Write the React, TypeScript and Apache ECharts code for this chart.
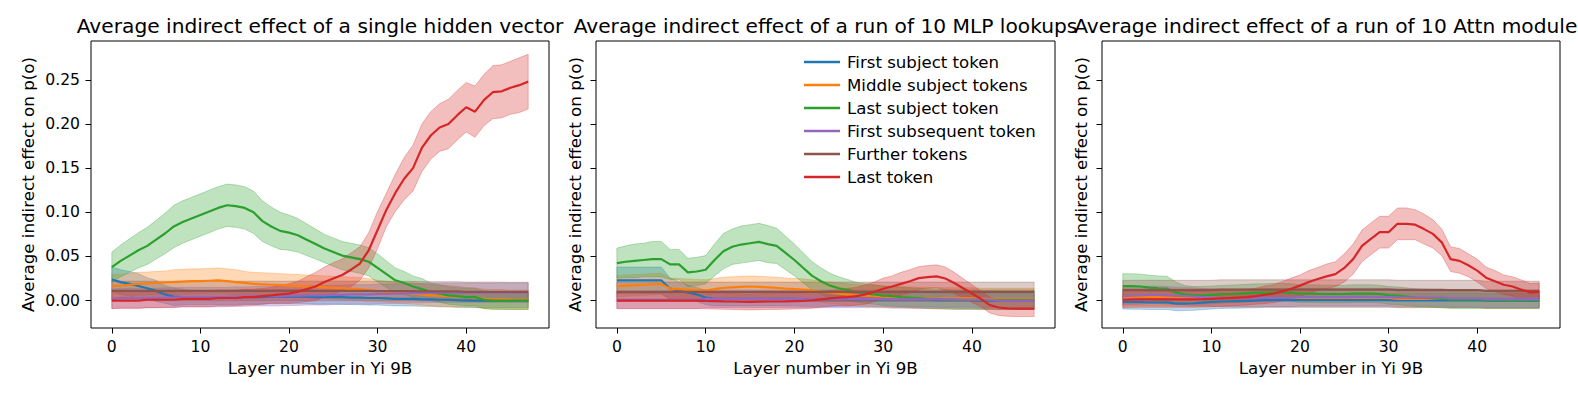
import React, { useEffect, useRef } from 'react';
import * as echarts from 'echarts';

// ---------------- data ----------------
const LAYERS = [0,1,2,3,4,5,6,7,8,9,10,11,12,13,14,15,16,17,18,19,20,21,22,23,24,25,26,27,28,29,30,31,32,33,34,35,36,37,38,39,40,41,42,43,44,45,46,47];
const X_TICKS = [0, 10, 20, 30, 40];
const Y_TICKS = [0, 0.05, 0.1, 0.15, 0.2, 0.25];
const SERIES_NAMES = ['First subject token', 'Middle subject tokens', 'Last subject token', 'First subsequent token', 'Further tokens', 'Last token'];
const TITLES = [
  'Average indirect effect of a single hidden vector',
  'Average indirect effect of a run of 10 MLP lookups',
  'Average indirect effect of a run of 10 Attn modules',
];
const X_LABEL = 'Layer number in Yi 9B';
const Y_LABEL = 'Average indirect effect on p(o)';

// Panel 1: single hidden vector
const hvFirstMean = [0.024,0.021,0.019,0.0165,0.014,0.011,0.007,0.0045,0.004,0.0035,
  0.0035,0.0035,0.0035,0.0035,0.0035,0.004,0.004,0.004,0.0045,0.0045,
  0.0045,0.0045,0.0045,0.004,0.004,0.004,0.004,0.0035,0.0035,0.003,
  0.003,0.0025,0.002,0.002,0.002,0.0015,0.0015,0.001,0.001,0.0005,
  0.0003,0,0,0,0,0,0,0];
const hvFirstErr = [0.014,0.014,0.014,0.014,0.012,0.012,0.010,0.010,0.009,0.008,
  0.008,0.008,0.008,0.008,0.008,0.008,0.008,0.008,0.008,0.008,
  0.008,0.008,0.008,0.008,0.008,0.008,0.008,0.008,0.008,0.008,
  0.008,0.008,0.008,0.008,0.008,0.008,0.008,0.008,0.008,0.008,
  0.008,0.008,0.008,0.008,0.008,0.008,0.008,0.008];
const hvMiddleMean = [0.0165,0.017,0.018,0.019,0.0195,0.020,0.0205,0.021,0.0215,0.022,
  0.022,0.0225,0.023,0.022,0.021,0.020,0.019,0.0185,0.018,0.0175,
  0.017,0.0165,0.016,0.0155,0.015,0.0145,0.014,0.0135,0.013,0.012,
  0.011,0.010,0.009,0.0085,0.008,0.007,0.006,0.0055,0.005,0.0045,
  0.004,0.0035,0.002,0.0015,0.0015,0.001,0.001,0.001];
const hvMiddleErr = [0.013,0.013,0.013,0.013,0.013,0.013,0.013,0.014,0.014,0.014,
  0.014,0.014,0.014,0.014,0.014,0.013,0.013,0.013,0.013,0.013,
  0.013,0.013,0.013,0.013,0.013,0.013,0.013,0.013,0.013,0.013,
  0.012,0.012,0.012,0.012,0.012,0.012,0.012,0.012,0.012,0.012,
  0.011,0.011,0.011,0.011,0.011,0.011,0.011,0.011];
const hvLastSubjMean = [0.038,0.045,0.051,0.057,0.062,0.069,0.076,0.084,0.089,0.093,
  0.097,0.101,0.105,0.108,0.107,0.105,0.100,0.090,0.084,0.079,
  0.077,0.074,0.069,0.064,0.059,0.055,0.051,0.049,0.047,0.044,
  0.037,0.030,0.023,0.020,0.016,0.013,0.010,0.008,0.006,0.005,
  0.004,0.004,0.001,0,0,0,0,0];
const hvLastSubjErr = [0.017,0.018,0.019,0.020,0.021,0.022,0.023,0.024,0.024,0.024,
  0.024,0.024,0.024,0.024,0.024,0.024,0.024,0.023,0.022,0.021,
  0.020,0.019,0.018,0.017,0.016,0.016,0.016,0.016,0.016,0.016,
  0.016,0.015,0.014,0.013,0.012,0.012,0.010,0.010,0.010,0.010,
  0.010,0.010,0.010,0.010,0.010,0.010,0.010,0.010];
const hvSubseqMean = [0.002,0.003,0.003,0.003,0.003,0.003,0.0035,0.0035,0.004,0.004,
  0.004,0.004,0.004,0.004,0.0045,0.0045,0.005,0.005,0.005,0.005,
  0.0055,0.0055,0.006,0.006,0.006,0.0065,0.0065,0.007,0.007,0.007,
  0.0075,0.0075,0.008,0.008,0.0085,0.0085,0.009,0.009,0.009,0.009,
  0.009,0.009,0.009,0.009,0.009,0.009,0.009,0.009];
const hvSubseqErr = [0.011,0.011,0.011,0.011,0.011,0.011,0.011,0.011,0.011,0.011,
  0.011,0.011,0.011,0.011,0.011,0.011,0.011,0.011,0.011,0.011,
  0.011,0.011,0.011,0.011,0.011,0.011,0.011,0.011,0.011,0.011,
  0.011,0.011,0.011,0.011,0.011,0.011,0.011,0.011,0.011,0.011,
  0.011,0.011,0.011,0.011,0.011,0.011,0.011,0.011];
const hvFurtherMean = [0.011,0.011,0.011,0.011,0.011,0.011,0.011,0.011,0.011,0.011,
  0.011,0.011,0.011,0.011,0.011,0.011,0.011,0.011,0.011,0.011,
  0.011,0.011,0.011,0.011,0.011,0.011,0.011,0.011,0.011,0.011,
  0.0108,0.0108,0.0108,0.0108,0.0108,0.0105,0.0105,0.0105,0.0105,0.0105,
  0.010,0.010,0.010,0.010,0.010,0.0098,0.0098,0.0098];
const hvFurtherErr = [0.011,0.011,0.011,0.011,0.011,0.011,0.011,0.011,0.011,0.011,
  0.011,0.011,0.011,0.011,0.011,0.011,0.011,0.011,0.011,0.011,
  0.011,0.011,0.011,0.011,0.011,0.011,0.011,0.011,0.011,0.011,
  0.011,0.011,0.011,0.011,0.011,0.011,0.011,0.011,0.011,0.011,
  0.011,0.011,0.011,0.011,0.011,0.011,0.011,0.011];
const hvLastMean = [0,0,0,0,0.001,0.001,0.001,0.001,0.002,0.002,
  0.002,0.002,0.003,0.003,0.003,0.004,0.004,0.005,0.006,0.007,
  0.008,0.010,0.013,0.016,0.021,0.025,0.029,0.035,0.042,0.057,
  0.080,0.103,0.122,0.138,0.150,0.173,0.187,0.196,0.200,0.210,
  0.219,0.214,0.227,0.236,0.237,0.241,0.244,0.248];
const hvLastErr = [0.009,0.009,0.009,0.009,0.009,0.009,0.009,0.009,0.009,0.009,
  0.009,0.009,0.009,0.009,0.009,0.009,0.009,0.009,0.009,0.010,
  0.011,0.012,0.014,0.016,0.017,0.018,0.018,0.019,0.019,0.020,
  0.021,0.019,0.021,0.024,0.026,0.027,0.027,0.027,0.028,0.028,
  0.028,0.029,0.029,0.030,0.030,0.030,0.031,0.031];

// Panel 2: run of 10 MLP lookups
const mlpFirstMean = [0.023,0.023,0.023,0.023,0.023,0.023,0.0135,0.0115,0.009,0.007,
  0.0035,0.002,0.002,0.002,0.002,0.002,0.002,0.002,0.002,0.002,
  0.002,0.0015,0.0015,0.0015,0.0015,0.0015,0.0015,0.0015,0.0015,0.0015,
  0.0015,0.001,0.001,0.001,0.001,0.001,0.0005,0.0005,0.0005,0.0005,
  0.0005,0,0,0,0,0,0,0];
const mlpFirstErr = [0.015,0.015,0.015,0.015,0.015,0.015,0.012,0.010,0.008,0.008,
  0.008,0.008,0.008,0.008,0.008,0.008,0.008,0.008,0.008,0.008,
  0.008,0.008,0.008,0.008,0.008,0.008,0.008,0.008,0.008,0.008,
  0.008,0.008,0.008,0.008,0.008,0.008,0.008,0.008,0.008,0.008,
  0.008,0.008,0.008,0.008,0.008,0.008,0.008,0.008];
const mlpMiddleMean = [0.0165,0.017,0.0175,0.018,0.0185,0.019,0.0135,0.013,0.0125,0.012,
  0.0115,0.013,0.0145,0.015,0.0155,0.016,0.0155,0.015,0.0145,0.0135,
  0.013,0.0125,0.0115,0.010,0.009,0.008,0.007,0.006,0.0055,0.005,
  0.0045,0.004,0.004,0.0035,0.003,0.003,0.0025,0.0025,0.0025,0.0025,
  0.0025,0.002,0.002,0.002,0.002,0.002,0.002,0.002];
const mlpMiddleErr = [0.012,0.012,0.012,0.012,0.012,0.012,0.012,0.012,0.012,0.012,
  0.012,0.012,0.012,0.012,0.012,0.012,0.012,0.012,0.012,0.012,
  0.012,0.012,0.012,0.012,0.012,0.012,0.012,0.012,0.012,0.012,
  0.012,0.012,0.012,0.012,0.012,0.012,0.012,0.012,0.012,0.012,
  0.012,0.012,0.012,0.012,0.012,0.012,0.012,0.012];
const mlpLastSubjMean = [0.0425,0.044,0.045,0.046,0.047,0.047,0.041,0.041,0.032,0.033,
  0.035,0.046,0.056,0.061,0.0635,0.065,0.0665,0.064,0.062,0.054,
  0.046,0.037,0.028,0.022,0.017,0.014,0.012,0.0095,0.008,0.007,
  0.0056,0.005,0.004,0.0035,0.003,0.002,0.002,0.0015,0.001,0.001,
  0.001,0.001,0.001,0.001,0.001,0.001,0.001,0.001];
const mlpLastSubjErr = [0.017,0.018,0.019,0.019,0.020,0.020,0.017,0.017,0.016,0.016,
  0.016,0.018,0.020,0.020,0.021,0.021,0.021,0.021,0.020,0.019,
  0.018,0.017,0.016,0.015,0.014,0.013,0.012,0.011,0.011,0.011,
  0.011,0.011,0.011,0.011,0.011,0.011,0.011,0.011,0.011,0.011,
  0.011,0.011,0.011,0.011,0.011,0.011,0.011,0.011];
const mlpSubseqMean = [0.001,0.001,0.001,0.001,0.001,0.001,0.001,0.001,0.001,0.001,
  0.002,0.002,0.002,0.002,0.002,0.002,0.002,0.002,0.002,0.002,
  0.002,0.002,0.002,0.002,0.002,0.002,0.002,0.002,0.002,0.002,
  0.002,0.0015,0.0015,0.0015,0.0015,0.0015,0.0015,0.0015,0.0015,0.001,
  0.001,0.001,0.001,0,0,0,0,0];
const mlpSubseqErr = [0.010,0.010,0.010,0.010,0.010,0.010,0.010,0.010,0.010,0.010,
  0.010,0.010,0.010,0.010,0.010,0.010,0.010,0.010,0.010,0.010,
  0.010,0.010,0.010,0.010,0.010,0.010,0.010,0.010,0.010,0.010,
  0.010,0.010,0.010,0.010,0.010,0.010,0.010,0.010,0.010,0.010,
  0.010,0.010,0.010,0.010,0.010,0.010,0.010,0.010];
const mlpFurtherMean = [0.010,0.010,0.010,0.010,0.010,0.010,0.010,0.010,0.010,0.010,
  0.010,0.010,0.010,0.010,0.010,0.010,0.010,0.010,0.010,0.010,
  0.010,0.010,0.010,0.010,0.010,0.010,0.010,0.010,0.010,0.010,
  0.010,0.010,0.010,0.010,0.010,0.010,0.010,0.010,0.010,0.010,
  0.010,0.010,0.010,0.010,0.010,0.010,0.010,0.010];
const mlpFurtherErr = [0.011,0.011,0.011,0.011,0.011,0.011,0.011,0.011,0.011,0.011,
  0.011,0.011,0.011,0.011,0.011,0.011,0.011,0.011,0.011,0.011,
  0.011,0.011,0.011,0.011,0.011,0.011,0.011,0.011,0.011,0.011,
  0.011,0.011,0.011,0.011,0.011,0.011,0.011,0.011,0.011,0.011,
  0.011,0.011,0.011,0.011,0.011,0.011,0.011,0.011];
const mlpLastMean = [0,0,0,0,0,0,0,0,0,0,
  -0.0003,-0.0005,-0.0008,-0.001,-0.0013,-0.0015,-0.0012,-0.001,-0.001,-0.0008,
  -0.0005,-0.0002,0.0004,0.0015,0.0025,0.0033,0.004,0.005,0.007,0.010,
  0.0135,0.016,0.019,0.022,0.0255,0.0267,0.0275,0.025,0.020,0.014,
  0.008,0.002,-0.005,-0.0078,-0.0087,-0.009,-0.009,-0.009];
const mlpLastErr = [0.009,0.009,0.009,0.009,0.009,0.009,0.009,0.009,0.009,0.009,
  0.009,0.009,0.009,0.009,0.009,0.009,0.009,0.009,0.009,0.009,
  0.009,0.009,0.009,0.009,0.009,0.009,0.010,0.010,0.011,0.011,
  0.012,0.012,0.013,0.013,0.013,0.013,0.013,0.013,0.012,0.011,
  0.010,0.009,0.009,0.009,0.009,0.009,0.009,0.009];

// Panel 3: run of 10 Attn modules
const attnFirstMean = [-0.0016,-0.0017,-0.0018,-0.002,-0.002,-0.002,-0.0034,-0.0033,-0.003,-0.0022,
  -0.0015,-0.001,-0.0007,-0.0005,-0.0003,0,0.0005,0.0005,0.0005,0.0005,
  0.0005,0.0005,0.0005,0.0005,0.0005,0.0005,0.0005,0.0005,0.0005,0.0005,
  0.0005,0.0003,0.0003,0.0003,0.0003,0.0003,0.0003,0.0003,0.0003,0.0003,
  0.0003,0,0,0,0,0,0,0];
const attnFirstErr = [0.008,0.008,0.008,0.008,0.008,0.008,0.008,0.008,0.008,0.008,
  0.008,0.008,0.008,0.008,0.008,0.008,0.008,0.008,0.008,0.008,
  0.008,0.008,0.008,0.008,0.008,0.008,0.008,0.008,0.008,0.008,
  0.008,0.008,0.008,0.008,0.008,0.008,0.008,0.008,0.008,0.008,
  0.008,0.008,0.008,0.008,0.008,0.008,0.008,0.008];
const attnMiddleMean = [0.0035,0.004,0.004,0.004,0.004,0.004,0.0035,0.0035,0.0035,0.0035,
  0.0035,0.003,0.003,0.003,0.003,0.003,0.003,0.003,0.003,0.003,
  0.003,0.003,0.003,0.003,0.003,0.003,0.003,0.003,0.003,0.003,
  0.003,0.002,0.002,0.002,0.002,0.002,0.002,0.002,0.002,0.002,
  0.002,0.001,0.001,0.001,0.001,0.001,0.001,0.001];
const attnMiddleErr = [0.010,0.010,0.010,0.010,0.010,0.010,0.010,0.010,0.010,0.010,
  0.010,0.010,0.010,0.010,0.010,0.010,0.010,0.010,0.010,0.010,
  0.010,0.010,0.010,0.010,0.010,0.010,0.010,0.010,0.010,0.010,
  0.010,0.010,0.010,0.010,0.010,0.010,0.010,0.010,0.010,0.010,
  0.010,0.010,0.010,0.010,0.010,0.010,0.010,0.010];
const attnLastSubjMean = [0.0165,0.0165,0.016,0.0147,0.014,0.0135,0.009,0.007,0.006,0.006,
  0.0065,0.007,0.0075,0.008,0.0085,0.009,0.009,0.0095,0.0095,0.009,
  0.008,0.008,0.0078,0.0075,0.0075,0.0075,0.008,0.008,0.008,0.0075,
  0.006,0.0055,0.0045,0.0035,0.003,0.0025,0.002,0.001,0.001,0.001,
  0.001,0.001,0.001,0.001,0.001,0.001,0.001,0.001];
const attnLastSubjErr = [0.014,0.014,0.014,0.014,0.014,0.014,0.012,0.010,0.010,0.010,
  0.010,0.010,0.010,0.010,0.010,0.010,0.010,0.010,0.010,0.010,
  0.010,0.010,0.010,0.010,0.010,0.010,0.010,0.010,0.010,0.010,
  0.010,0.010,0.010,0.010,0.010,0.010,0.010,0.010,0.010,0.010,
  0.010,0.010,0.010,0.010,0.010,0.010,0.010,0.010];
const attnSubseqMean = [0.005,0.0055,0.006,0.0065,0.0065,0.006,0.0055,0.005,0.0045,0.004,
  0.0035,0.003,0.003,0.003,0.003,0.003,0.003,0.003,0.003,0.003,
  0.004,0.004,0.004,0.004,0.004,0.004,0.004,0.004,0.004,0.004,
  0.004,0.0035,0.0035,0.0035,0.0035,0.0035,0.0035,0.0025,0.0025,0.0025,
  0.0025,0.002,0.002,0.002,0.002,0.002,0.002,0.002];
const attnSubseqErr = [0.010,0.010,0.010,0.010,0.010,0.010,0.010,0.010,0.010,0.010,
  0.010,0.010,0.010,0.010,0.010,0.010,0.010,0.010,0.010,0.010,
  0.010,0.010,0.010,0.010,0.010,0.010,0.010,0.010,0.010,0.010,
  0.010,0.010,0.010,0.010,0.010,0.010,0.010,0.010,0.010,0.010,
  0.010,0.010,0.010,0.010,0.010,0.010,0.010,0.010];
const attnFurtherMean = [0.0118,0.012,0.012,0.012,0.012,0.012,0.012,0.012,0.012,0.012,
  0.012,0.0125,0.0125,0.0125,0.0125,0.0125,0.0125,0.0125,0.0125,0.0125,
  0.0125,0.0125,0.0125,0.0125,0.0125,0.0125,0.0125,0.0125,0.0125,0.0125,
  0.0125,0.012,0.012,0.012,0.012,0.012,0.012,0.012,0.012,0.012,
  0.012,0.011,0.011,0.011,0.011,0.011,0.011,0.011];
const attnFurtherErr = [0.011,0.011,0.011,0.011,0.011,0.011,0.011,0.011,0.011,0.011,
  0.011,0.011,0.011,0.011,0.011,0.011,0.011,0.011,0.011,0.011,
  0.011,0.011,0.011,0.011,0.011,0.011,0.011,0.011,0.011,0.011,
  0.011,0.011,0.011,0.011,0.011,0.011,0.011,0.011,0.011,0.011,
  0.011,0.011,0.011,0.011,0.011,0.011,0.011,0.011];
const attnLastMean = [0.001,0.0012,0.0014,0.0015,0.0015,0.0015,0.0015,0.0015,0.0015,0.0017,
  0.002,0.0025,0.003,0.0035,0.004,0.005,0.0065,0.008,0.0105,0.0135,
  0.017,0.021,0.0245,0.0275,0.030,0.037,0.047,0.062,0.070,0.0775,
  0.0775,0.087,0.087,0.086,0.081,0.0756,0.066,0.047,0.045,0.040,
  0.034,0.026,0.022,0.018,0.016,0.0124,0.0094,0.010];
const attnLastErr = [0.009,0.009,0.009,0.009,0.009,0.009,0.009,0.009,0.009,0.009,
  0.009,0.009,0.009,0.009,0.009,0.009,0.010,0.010,0.011,0.012,
  0.012,0.013,0.013,0.014,0.014,0.016,0.017,0.018,0.018,0.018,
  0.018,0.018,0.018,0.017,0.017,0.016,0.015,0.014,0.014,0.013,
  0.013,0.012,0.012,0.011,0.011,0.011,0.010,0.010];

const PANEL_MEANS = [
  [hvFirstMean, hvMiddleMean, hvLastSubjMean, hvSubseqMean, hvFurtherMean, hvLastMean],
  [mlpFirstMean, mlpMiddleMean, mlpLastSubjMean, mlpSubseqMean, mlpFurtherMean, mlpLastMean],
  [attnFirstMean, attnMiddleMean, attnLastSubjMean, attnSubseqMean, attnFurtherMean, attnLastMean],
];
const PANEL_ERRS = [
  [hvFirstErr, hvMiddleErr, hvLastSubjErr, hvSubseqErr, hvFurtherErr, hvLastErr],
  [mlpFirstErr, mlpMiddleErr, mlpLastSubjErr, mlpSubseqErr, mlpFurtherErr, mlpLastErr],
  [attnFirstErr, attnMiddleErr, attnLastSubjErr, attnSubseqErr, attnFurtherErr, attnLastErr],
];

// ---------------- style ----------------
const COLORS = ['#1f77b4', '#ff7f0e', '#2ca02c', '#9467bd', '#8c564b', '#d62728'];
const FONT = "'DejaVu Sans', sans-serif";
const GRID_LEFTS = [91, 596, 1102];
const GRID_WIDTHS = [458, 459, 458];
const GRID_TOP = 41;
const GRID_HEIGHT = 287;

function buildOption() {
  const grids = GRID_LEFTS.map((left, i) => ({
    left, top: GRID_TOP, width: GRID_WIDTHS[i], height: GRID_HEIGHT,
    show: true, borderColor: '#000', borderWidth: 1, backgroundColor: 'transparent',
    containLabel: false,
  }));
  const xAxes = GRID_LEFTS.map((_, i) => ({
    type: 'value', gridIndex: i, min: -2.35, max: 49.35, position: 'bottom',
    axisLine: { show: false, onZero: false },
    splitLine: { show: false },
    axisTick: { show: true, length: 5.5, lineStyle: { color: '#000', width: 1 }, customValues: X_TICKS },
    axisLabel: { show: true, customValues: X_TICKS, fontSize: 15.6, color: '#000', fontFamily: FONT, margin: 10.5 },
    name: X_LABEL, nameLocation: 'middle', nameGap: 31, nameMoveOverlap: false,
    nameTextStyle: { fontSize: 16.7, color: '#000', fontFamily: FONT },
  }));
  const yAxes = GRID_LEFTS.map((_, i) => ({
    type: 'value', gridIndex: i, min: -0.031, max: 0.294, position: 'left',
    axisLine: { show: false, onZero: false },
    splitLine: { show: false },
    axisTick: { show: true, length: 5.5, lineStyle: { color: '#000', width: 1 }, customValues: Y_TICKS },
    axisLabel: {
      show: i === 0, customValues: Y_TICKS, fontSize: 15.6, color: '#000', fontFamily: FONT, margin: 11,
      formatter: (v: number) => v.toFixed(2),
    },
    name: Y_LABEL, nameLocation: 'middle', nameGap: i === 0 ? 55 : 13, nameMoveOverlap: false,
    nameTextStyle: { fontSize: 16.7, color: '#000', fontFamily: FONT },
  }));

  const series: any[] = [];
  PANEL_MEANS.forEach((means, p) => {
    means.forEach((mean, s) => {
      const err = PANEL_ERRS[p][s];
      const color = COLORS[s];
      const bandData = LAYERS.map((x, i) => [x, mean[i] - err[i], mean[i] + err[i]]);
      series.push({
        type: 'custom', name: `band-${p}-${s}`, xAxisIndex: p, yAxisIndex: p,
        data: bandData, encode: { x: 0, y: [1, 2] }, silent: true,
        renderItem: (params: any, api: any) => {
          if (params.dataIndex !== 0) return null;
          const upper = bandData.map((d) => api.coord([d[0], d[2]]));
          const lower = bandData.map((d) => api.coord([d[0], d[1]])).reverse();
          return {
            type: 'polygon',
            shape: { points: upper.concat(lower) },
            style: { fill: color, stroke: color, lineWidth: 1, opacity: 0.3 },
          };
        },
      });
      series.push({
        type: 'line', name: SERIES_NAMES[s], xAxisIndex: p, yAxisIndex: p,
        data: LAYERS.map((x, i) => [x, mean[i]]),
        symbol: 'none', silent: true,
        lineStyle: { color, width: 2.2 },
        itemStyle: { color },
        emphasis: { disabled: true },
      });
    });
  });

  const centers = GRID_LEFTS.map((l, i) => l + GRID_WIDTHS[i] / 2);

  return {
    animation: false,
    backgroundColor: '#fff',
    grid: grids,
    xAxis: xAxes,
    yAxis: yAxes,
    series,
    legend: {
      data: SERIES_NAMES,
      orient: 'vertical',
      left: 799, top: 48,
      icon: 'rect', itemWidth: 36, itemHeight: 2.6, itemGap: 5,
      selectedMode: false,
      textStyle: { fontSize: 16.6, lineHeight: 18, color: '#000', fontFamily: FONT, padding: [0, 0, 0, 2] },
    },
    graphic: TITLES.map((t, i) => ({
      type: 'text', x: centers[i], y: 26, silent: true,
      style: { text: t, fontSize: 20.2, fontFamily: FONT, fill: '#000', align: 'center', verticalAlign: 'middle' },
    })),
  };
}

export default function App() {
  const ref = useRef<HTMLDivElement>(null);
  useEffect(() => {
    if (!ref.current) return;
    const chart = echarts.init(ref.current, undefined, { renderer: 'svg' });
    chart.setOption(buildOption() as any);
    return () => chart.dispose();
  }, []);
  return <div ref={ref} style={{ position: 'fixed', left: 0, top: 0, width: 1578, height: 395, background: '#fff' }} />;
}
